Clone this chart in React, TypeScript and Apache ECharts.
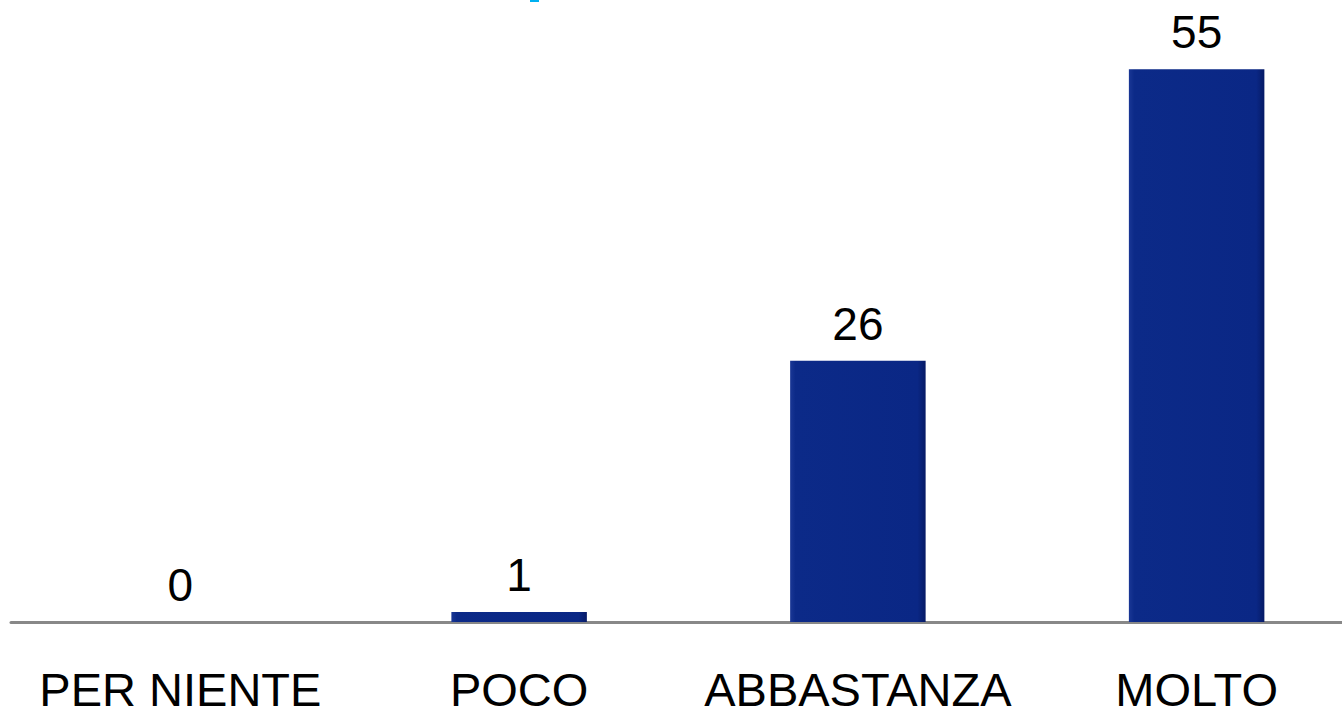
import React, { useEffect, useRef } from "react";
import * as echarts from "echarts";

const categories = ["PER NIENTE", "POCO", "ABBASTANZA", "MOLTO"];
const values = [0, 1, 26, 55];

export default function App() {
  const ref = useRef<HTMLDivElement>(null);
  useEffect(() => {
    const chart = echarts.init(ref.current!, null, { renderer: "svg" });
    chart.setOption({
      animation: false,
      backgroundColor: "#ffffff",
      grid: {
        left: 11,
        width: 1355,
        top: 19,
        bottom: 94,
        containLabel: false,
        outerBoundsMode: "none",
      },
      xAxis: {
        type: "category",
        data: categories,
        axisLine: { show: true, lineStyle: { color: "#888888", width: 3 } },
        axisTick: { show: false },
        axisLabel: {
          color: "#000000",
          fontFamily: "Liberation Sans, Arial, sans-serif",
          fontSize: 47,
          lineHeight: 40,
          margin: 47,
          interval: 0,
        },
      },
      yAxis: {
        type: "value",
        min: 0,
        max: 60,
        show: false,
        splitLine: { show: false },
      },
      graphic: [
        {
          type: "rect",
          shape: { x: 530, y: 0, width: 9, height: 2 },
          style: { fill: "#00B0F0" },
        },
      ],
      series: [
        {
          type: "bar",
          data: values,
          barWidth: "40%",
          itemStyle: {
            color: {
              type: "linear",
              x: 0,
              y: 0,
              x2: 1,
              y2: 0,
              colorStops: [
                { offset: 0, color: "#1a3795" },
                { offset: 0.04, color: "#0c2a88" },
                { offset: 0.94, color: "#0a2785" },
                { offset: 1, color: "#061a66" },
              ],
            },
          },
          label: {
            show: true,
            position: "top",
            distance: 14,
            color: "#000000",
            fontFamily: "Liberation Sans, Arial, sans-serif",
            fontSize: 46,
          },
        },
      ],
    });
    return () => chart.dispose();
  }, []);
  return (
    <div
      ref={ref}
      style={{ position: "absolute", left: 0, top: 0, width: 1342, height: 716 }}
    />
  );
}
